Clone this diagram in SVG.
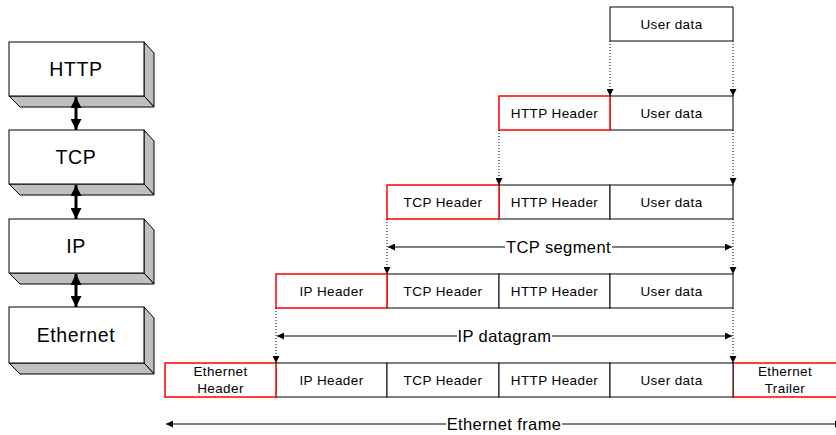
<svg xmlns="http://www.w3.org/2000/svg" width="836" height="435" viewBox="0 0 836 435">
  <style>
    text { font-family: "Liberation Sans", Arial, sans-serif; fill: #000; }
    .layer-front { fill: #fff; stroke: #000; stroke-width: 1; }
    .layer-side { fill: #c0c0c0; stroke: #000; stroke-width: 1; }
    .layer-label { font-size: 19.5px; letter-spacing: 0.6px; text-anchor: middle; }
    .cell { fill: #fff; stroke: #000; stroke-width: 1; }
    .hdr { fill: #fff; stroke: #ff0000; stroke-width: 1.5; }
    .cell-label { font-size: 13.5px; letter-spacing: 0.4px; text-anchor: middle; }
    .span-label { font-size: 16.5px; letter-spacing: 0.4px; text-anchor: middle; }
    .dotted { stroke: #000; stroke-width: 1; stroke-dasharray: 1 2; fill: none; }
    .span { stroke: #000; stroke-width: 1; fill: none; }
    .stack-arrow { stroke: #000; stroke-width: 3; fill: none; }
  </style>
  <defs>
    <marker id="tri" viewBox="0 0 10 10" refX="10" refY="5" markerWidth="7" markerHeight="7" markerUnits="userSpaceOnUse" orient="auto">
      <path d="M0,0 L10,5 L0,10 Z" fill="#000"/>
    </marker>
    <marker id="tri-start" viewBox="0 0 10 10" refX="0" refY="5" markerWidth="7" markerHeight="7" markerUnits="userSpaceOnUse" orient="auto">
      <path d="M10,0 L0,5 L10,10 Z" fill="#000"/>
    </marker>
    <marker id="big" viewBox="0 0 10 10" refX="10" refY="5" markerWidth="11" markerHeight="11" markerUnits="userSpaceOnUse" orient="auto">
      <path d="M0,0 L10,5 L0,10 Z" fill="#000"/>
    </marker>
    <marker id="big-start" viewBox="0 0 10 10" refX="0" refY="5" markerWidth="11" markerHeight="11" markerUnits="userSpaceOnUse" orient="auto">
      <path d="M10,0 L0,5 L10,10 Z" fill="#000"/>
    </marker>
  </defs>

  <!-- protocol stack -->
  <g id="layer-http">
    <polygon class="layer-side" points="144,42 154,53 154,107 144,96"/>
    <polygon class="layer-side" points="9,96 144,96 154,107 20,107"/>
    <rect class="layer-front" x="9" y="42" width="135" height="54"/>
    <text class="layer-label" x="76" y="76">HTTP</text>
  </g>
  <g id="layer-tcp">
    <polygon class="layer-side" points="144,130 154,141 154,195 144,184"/>
    <polygon class="layer-side" points="9,184 144,184 154,195 20,195"/>
    <rect class="layer-front" x="9" y="130" width="135" height="54"/>
    <text class="layer-label" x="76" y="164">TCP</text>
  </g>
  <g id="layer-ip">
    <polygon class="layer-side" points="144,219 154,230 154,284 144,273"/>
    <polygon class="layer-side" points="9,273 144,273 154,284 20,284"/>
    <rect class="layer-front" x="9" y="219" width="135" height="54"/>
    <text class="layer-label" x="76" y="253">IP</text>
  </g>
  <g id="layer-ethernet">
    <polygon class="layer-side" points="144,307 154,318 154,374 144,363"/>
    <polygon class="layer-side" points="9,363 144,363 154,374 20,374"/>
    <rect class="layer-front" x="9" y="307" width="135" height="56"/>
    <text class="layer-label" x="76" y="342">Ethernet</text>
  </g>

  <!-- row 1: application data -->
  <g id="row-user">
    <rect class="cell" x="610" y="7" width="123" height="34"/>
    <text class="cell-label" x="671.5" y="29">User data</text>
  </g>

  <!-- row 2: HTTP message -->
  <g id="row-http">
    <rect class="cell" x="610" y="96" width="123" height="34"/>
    <rect class="hdr" x="499" y="96" width="111" height="34"/>
    <text class="cell-label" x="554.5" y="118">HTTP Header</text>
    <text class="cell-label" x="671.5" y="118">User data</text>
  </g>

  <!-- row 3: TCP segment -->
  <g id="row-tcp">
    <rect class="cell" x="499" y="185" width="111" height="34"/>
    <rect class="cell" x="610" y="185" width="123" height="34"/>
    <rect class="hdr" x="387" y="185" width="112" height="34"/>
    <text class="cell-label" x="443" y="207">TCP Header</text>
    <text class="cell-label" x="554.5" y="207">HTTP Header</text>
    <text class="cell-label" x="671.5" y="207">User data</text>
  </g>

  <!-- row 4: IP datagram -->
  <g id="row-ip">
    <rect class="cell" x="387" y="274" width="112" height="34"/>
    <rect class="cell" x="499" y="274" width="111" height="34"/>
    <rect class="cell" x="610" y="274" width="123" height="34"/>
    <rect class="hdr" x="276" y="274" width="111" height="34"/>
    <text class="cell-label" x="331.5" y="296">IP Header</text>
    <text class="cell-label" x="443" y="296">TCP Header</text>
    <text class="cell-label" x="554.5" y="296">HTTP Header</text>
    <text class="cell-label" x="671.5" y="296">User data</text>
  </g>

  <!-- row 5: Ethernet frame -->
  <g id="row-ethernet">
    <rect class="hdr" x="733" y="363" width="112" height="34"/>
    <rect class="cell" x="276" y="363" width="111" height="34"/>
    <rect class="cell" x="387" y="363" width="112" height="34"/>
    <rect class="cell" x="499" y="363" width="111" height="34"/>
    <rect class="cell" x="610" y="363" width="123" height="34"/>
    <rect class="hdr" x="165" y="363" width="111" height="34"/>
    <text class="cell-label" x="220.5" y="376">Ethernet</text>
    <text class="cell-label" x="220.5" y="393">Header</text>
    <text class="cell-label" x="331.5" y="385">IP Header</text>
    <text class="cell-label" x="443" y="385">TCP Header</text>
    <text class="cell-label" x="554.5" y="385">HTTP Header</text>
    <text class="cell-label" x="671.5" y="385">User data</text>
    <text class="cell-label" x="785" y="376">Ethernet</text>
    <text class="cell-label" x="785" y="393">Trailer</text>
  </g>

  <!-- connectors -->
  <g id="connectors">
    <!-- stack links -->
    <line class="stack-arrow" x1="76" y1="97" x2="76" y2="130" marker-start="url(#big-start)" marker-end="url(#big)"/>
    <line class="stack-arrow" x1="76" y1="185" x2="76" y2="219" marker-start="url(#big-start)" marker-end="url(#big)"/>
    <line class="stack-arrow" x1="76" y1="274" x2="76" y2="307" marker-start="url(#big-start)" marker-end="url(#big)"/>

    <!-- encapsulation drops -->
    <line class="dotted" x1="610" y1="41" x2="610" y2="96" marker-end="url(#tri)"/>
    <line class="dotted" x1="733" y1="41" x2="733" y2="96" marker-end="url(#tri)"/>
    <line class="dotted" x1="499" y1="130" x2="499" y2="185" marker-end="url(#tri)"/>
    <line class="dotted" x1="733" y1="130" x2="733" y2="185" marker-end="url(#tri)"/>
    <line class="dotted" x1="387" y1="219" x2="387" y2="274" marker-end="url(#tri)"/>
    <line class="dotted" x1="733" y1="219" x2="733" y2="274" marker-end="url(#tri)"/>
    <line class="dotted" x1="276" y1="308" x2="276" y2="363" marker-end="url(#tri)"/>
    <line class="dotted" x1="733" y1="308" x2="733" y2="363" marker-end="url(#tri)"/>

    <!-- span: TCP segment -->
    <line class="span" x1="388" y1="247" x2="505" y2="247" marker-start="url(#tri-start)"/>
    <line class="span" x1="612" y1="247" x2="732" y2="247" marker-end="url(#tri)"/>
    <!-- span: IP datagram -->
    <line class="span" x1="277" y1="336" x2="457" y2="336" marker-start="url(#tri-start)"/>
    <line class="span" x1="552" y1="336" x2="732" y2="336" marker-end="url(#tri)"/>
    <!-- span: Ethernet frame -->
    <line class="span" x1="166" y1="424" x2="446" y2="424" marker-start="url(#tri-start)"/>
    <line class="span" x1="562" y1="424" x2="842" y2="424" marker-end="url(#tri)"/>
  </g>

  <g id="span-labels">
    <text class="span-label" x="558.5" y="253">TCP segment</text>
    <text class="span-label" x="504.5" y="342">IP datagram</text>
    <text class="span-label" x="504" y="430">Ethernet frame</text>
  </g>
</svg>
